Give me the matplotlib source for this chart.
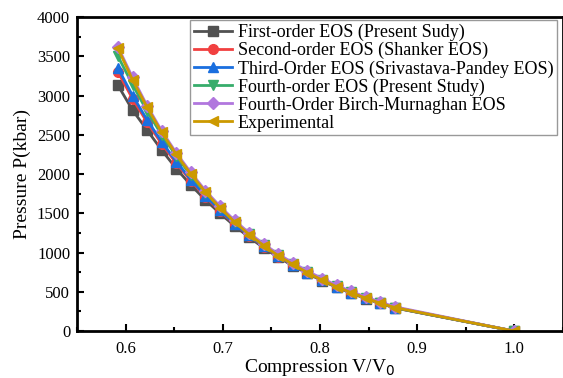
import matplotlib.pyplot as plt
from matplotlib.ticker import MultipleLocator

# Compression V/V0
compression = [0.592, 0.607, 0.622, 0.637, 0.652, 0.667, 0.682, 0.697, 0.712, 0.727,
               0.742, 0.757, 0.772, 0.787, 0.802, 0.817, 0.832, 0.847, 0.862, 0.877, 1.0]

# Pressure (kbar) for each EOS
first_order = [3130, 2815, 2560, 2305, 2070, 1860, 1670, 1500, 1340, 1195,
               1060, 940, 832, 735, 642, 558, 484, 415, 353, 295, 0]
second_order = [3300, 2960, 2660, 2385, 2140, 1915, 1710, 1530, 1365, 1215,
                1075, 950, 842, 742, 648, 563, 488, 418, 356, 297, 0]
third_order = [3350, 3000, 2690, 2410, 2160, 1930, 1725, 1540, 1370, 1220,
               1080, 955, 845, 745, 650, 565, 490, 420, 358, 298, 0]
fourth_order = [3500, 3140, 2800, 2500, 2230, 1985, 1765, 1570, 1395, 1235,
                1095, 965, 855, 750, 655, 570, 495, 425, 360, 300, 0]
birch_murnaghan = [3620, 3230, 2870, 2550, 2270, 2020, 1790, 1590, 1410, 1250,
                   1110, 980, 870, 765, 670, 585, 505, 435, 370, 310, 0]
experimental = [3600, 3200, 2850, 2530, 2250, 2000, 1770, 1570, 1390, 1230,
                1090, 960, 850, 745, 650, 565, 490, 420, 355, 300, 0]

labels = ['First-order EOS (Present Sudy)',
          'Second-order EOS (Shanker EOS)',
          'Third-Order EOS (Srivastava-Pandey EOS)',
          'Fourth-order EOS (Present Study)',
          'Fourth-Order Birch-Murnaghan EOS',
          'Experimental']
colors = ['#515151', '#F14040', '#1A6FDF', '#37AD6B', '#B177DE', '#CC9900']
markers = ['s', 'o', '^', 'v', 'D', '<']
series = [first_order, second_order, third_order, fourth_order,
          birch_murnaghan, experimental]

plt.rcParams['font.family'] = ['Liberation Serif', 'DejaVu Serif']

fig = plt.figure(figsize=(5.63, 3.78), dpi=100)
ax = fig.add_axes([0.137, 0.124, 0.863, 0.831])

for vals, lab, col, mk in zip(series, labels, colors, markers):
    ms = 6 if mk == 'D' else 7
    ax.plot(compression, vals, color=col, marker=mk, markersize=ms,
            linewidth=2, label=lab)

ax.set_xlim(0.55, 1.05)
ax.set_ylim(0, 4000)
ax.xaxis.set_major_locator(MultipleLocator(0.1))
ax.xaxis.set_minor_locator(MultipleLocator(0.05))
ax.yaxis.set_major_locator(MultipleLocator(500))
ax.yaxis.set_minor_locator(MultipleLocator(250))
ax.xaxis.set_major_formatter(plt.FuncFormatter(lambda v, p: f'{v:.1f}'))
ax.tick_params(which='both', direction='in', width=1.5, labelsize=12)
ax.tick_params(which='major', length=5, pad=5)
ax.tick_params(which='minor', length=3)
ax.tick_params(axis='x', which='major', pad=7)
for s in ax.spines.values():
    s.set_linewidth(2)

ax.set_xlabel('Compression V/V$_0$', fontsize=14, labelpad=0)
ax.set_ylabel('Pressure P(kbar)', fontsize=14)

leg = ax.legend(loc='upper left', bbox_to_anchor=(0.2325, 0.99), fontsize=13,
                handlelength=2.1, handletextpad=0.35, labelspacing=0.05,
                borderpad=0.2, borderaxespad=0, fancybox=False, framealpha=1)
leg.get_frame().set_edgecolor('#999999')
leg.get_frame().set_linewidth(1)

fig.savefig('out.png', dpi=100)
